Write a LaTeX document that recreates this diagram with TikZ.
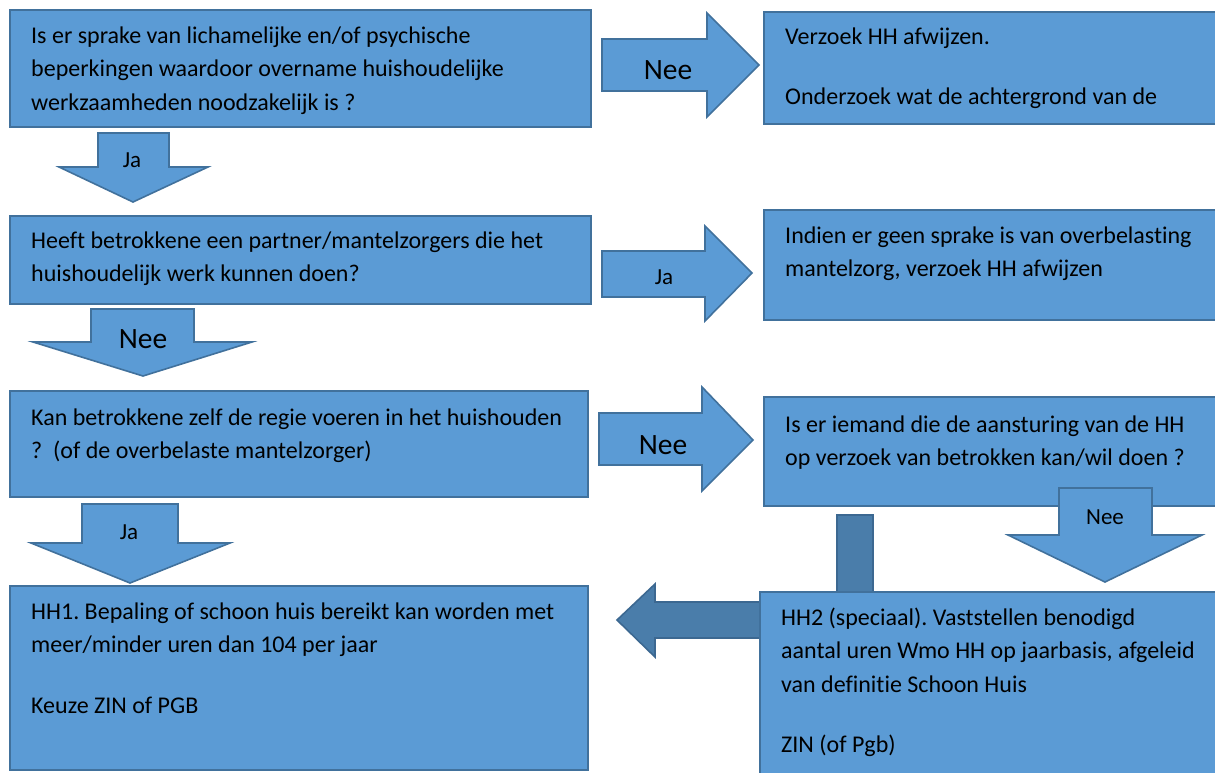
\documentclass[tikz,border=0pt]{standalone}
\usepackage{fontspec}
\setmainfont[Ligatures=NoCommon]{Carlito}
\frenchspacing
\definecolor{boxfill}{RGB}{91,155,213}
\definecolor{boxline}{RGB}{65,113,156}
\definecolor{darkfill}{RGB}{74,125,170}
\definecolor{darkline}{RGB}{60,104,145}
\newcommand\txtlines[1]{\vtop{\baselineskip=33.5pt\lineskiplimit=-100pt\lineskip=0pt #1}}
\newcommand\pgap{\vskip 27pt}
\tikzset{
  box/.style={draw=boxline, fill=boxfill, line width=1.6pt, rectangle, inner sep=0pt, anchor=north west},
  barrow/.style={draw=boxline, fill=boxfill, line width=1.6pt, line join=miter},
  darrow/.style={draw=darkline, fill=darkfill, line width=1.6pt, line join=miter},
  txt/.style={inner sep=0pt, anchor=base west, font=\fontsize{24}{33.5}\selectfont},
  lbl/.style={inner sep=0pt, anchor=center, font=\fontsize{23}{26}\selectfont},
  biglbl/.style={inner sep=0pt, anchor=center, font=\fontsize{29.5}{32}\selectfont},
}
\begin{document}
\begin{tikzpicture}[x=1pt,y=-1pt]
\clip (0,0) rectangle (1215,772);
\fill[white] (0,0) rectangle (1215,772);

% left column boxes
\node[box, minimum width=581pt, minimum height=117pt] (A) at (9,9) {};
\node[box, minimum width=581pt, minimum height=88pt] (B) at (9,215) {};
\node[box, minimum width=578pt, minimum height=106pt] (C) at (9,390) {};
\node[box, minimum width=578pt, minimum height=184pt] (D) at (9,585) {};

% right column boxes
\node[box, minimum width=460pt, minimum height=112pt] (E) at (763,11) {};
\node[box, minimum width=460pt, minimum height=110pt] (F) at (763,209) {};
\node[box, minimum width=460pt, minimum height=109pt] (G) at (763,396) {};

% dark elbow arrow (behind HH2 box)
\filldraw[darrow] (837,515) -- (873,515) -- (873,638) -- (655,638) -- (655,657) -- (617,620) -- (655,584) -- (655,602) -- (837,602) -- cycle;

\node[box, minimum width=470pt, minimum height=200pt] (H) at (759,591) {};

% down arrows (left column)
\filldraw[barrow] (98,133) -- (169,133) -- (169,167) -- (208,167) -- (133,202) -- (59,167) -- (98,167) -- cycle;
\filldraw[barrow] (91,309) -- (194,309) -- (194,342) -- (252,342) -- (143,376) -- (33,342) -- (91,342) -- cycle;
\filldraw[barrow] (82,504) -- (178,504) -- (178,543) -- (230,543) -- (130,583) -- (31,543) -- (82,543) -- cycle;

% right arrows
\filldraw[barrow] (602,39) -- (707,39) -- (707,13) -- (759,65) -- (707,117) -- (707,91) -- (602,91) -- cycle;
\filldraw[barrow] (602,251) -- (705,251) -- (705,226) -- (752,273) -- (705,321) -- (705,297) -- (602,297) -- cycle;
\filldraw[barrow] (599,413) -- (702,413) -- (702,387) -- (753,440) -- (702,491) -- (702,465) -- (599,465) -- cycle;

% down arrow right column (over box G)
\filldraw[barrow] (1059,488) -- (1152,488) -- (1152,535) -- (1202,535) -- (1105,582) -- (1008,535) -- (1059,535) -- cycle;

% arrow labels
\node[lbl] (l1) at (132,160) {Ja};
\node[biglbl] (l2) at (143,339) {Nee};
\node[lbl] (l3) at (129,532) {Ja};
\node[biglbl] (l4) at (668,70) {Nee};
\node[lbl] (l5) at (664,277) {Ja};
\node[biglbl] (l6) at (663,445) {Nee};
\node[lbl] (l7) at (1105,517) {Nee};

% box texts
\node[txt] (tA) at (31,43) {\txtlines{\hbox{Is er sprake van lichamelijke en/of psychische}\hbox{beperkingen waardoor overname huishoudelijke}\hbox{werkzaamheden noodzakelijk is ?}}};
\node[txt] (tB) at (31,248) {\txtlines{\hbox{Heeft betrokkene een partner/mantelzorgers die het}\hbox{huishoudelijk werk kunnen doen?}}};
\node[txt] (tC) at (31,425) {\txtlines{\hbox{Kan betrokkene zelf de regie voeren in het huishouden}\hbox{?\ \ (of de overbelaste mantelzorger)}}};
\node[txt] (tD) at (31,619) {\txtlines{\hbox{HH1. Bepaling of schoon huis bereikt kan worden met}\hbox{meer/minder uren dan 104 per jaar}\pgap\hbox{Keuze ZIN of PGB}}};
\node[txt] (tE) at (785,44) {\txtlines{\hbox{Verzoek HH afwijzen.}\pgap\hbox{Onderzoek wat de achtergrond van de}}};
\node[txt] (tF) at (785,243) {\txtlines{\hbox{Indien er geen sprake is van overbelasting}\hbox{mantelzorg, verzoek HH afwijzen}}};
\node[txt] (tG) at (785,432) {\txtlines{\hbox{Is er iemand die de aansturing van de HH}\hbox{op verzoek van betrokken kan/wil doen ?}}};
\node[txt] (tH) at (781,625) {\txtlines{\hbox{HH2 (speciaal). Vaststellen benodigd}\hbox{aantal uren Wmo HH op jaarbasis, afgeleid}\hbox{van definitie Schoon Huis}\pgap\hbox{ZIN (of Pgb)}}};
\end{tikzpicture}
\end{document}
